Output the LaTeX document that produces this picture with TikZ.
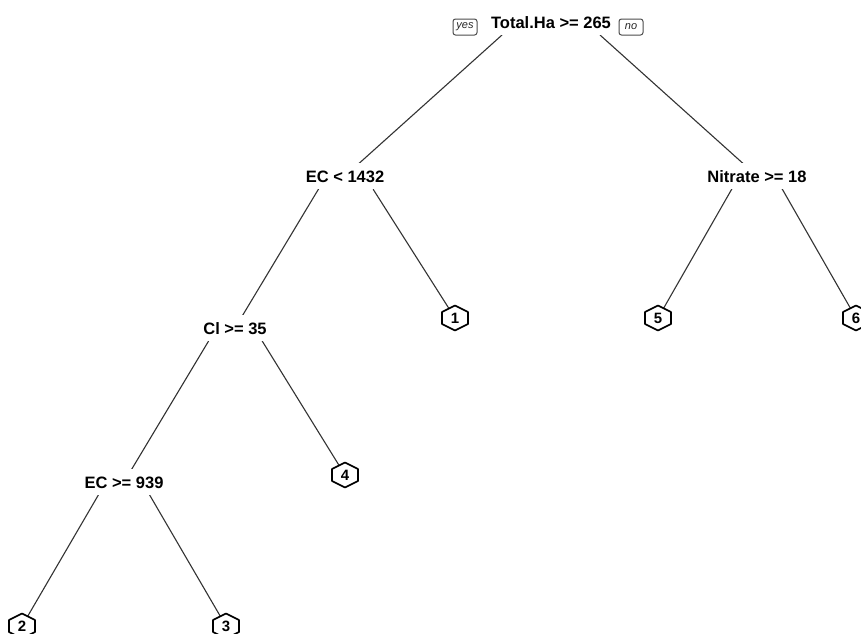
\documentclass[tikz,border=0pt]{standalone}
\usepackage{fontspec}
\setmainfont{Liberation Sans}
\usetikzlibrary{calc}
\pgfdeclarelayer{paper}
\pgfdeclarelayer{edges}
\pgfdeclarelayer{hexes}
\pgfsetlayers{paper,edges,hexes,main}
\begin{document}
\begin{tikzpicture}[x=1pt,y=-1pt,
  split/.style={font=\fontsize{16.5}{18}\selectfont\bfseries, fill=white,
    inner ysep=0pt, inner xsep=2pt, minimum height=26pt, text height=12pt, text depth=0pt},
  leaf/.style={font=\fontsize{15}{16}\selectfont\bfseries, inner sep=1pt},
  hexline/.style={draw=black, fill=white, line width=1.6pt, line join=round},
  edge/.style={draw=black!80, line width=1.1pt},
  yn/.style={draw=black!70, rounded corners=2.5pt, line width=1pt, minimum width=24pt,
    minimum height=16pt, inner sep=0pt, text=black!85,
    font=\fontsize{11}{12}\selectfont\itshape}]
\useasboundingbox (0,0) rectangle (861,633);
\begin{pgfonlayer}{paper}
\fill[white] (0,0) rectangle (861,633);
\end{pgfonlayer}

% split nodes
\node[split] (root) at (551,22) {Total.Ha >= 265};
\node[split] (ec) at (345,176) {EC < 1432};
\node[split] (ni) at (757,176) {Nitrate >= 18};
\node[split] (cl) at (235,328) {Cl >= 35};
\node[split] (e9) at (124,482) {EC >= 939};
\node[yn] (yes) at (465,27) {yes};
\node[yn] (no) at (631,27) {no};

% leaves
\node[leaf] (l1) at (455,318) {1};
\node[leaf] (l2) at (22,626) {2};
\node[leaf] (l3) at (226,626) {3};
\node[leaf] (l4) at (345,475) {4};
\node[leaf] (l5) at (658,318) {5};
\node[leaf] (l6) at (856,318) {6};

% junction points above the split labels
\coordinate (jroot) at (551,-9);
\coordinate (jec) at (345,145);
\coordinate (jni) at (757,145);
\coordinate (jcl) at (235,297);
\coordinate (je9) at (124,451);

\begin{pgfonlayer}{edges}
\draw[edge] ($(jroot)!0.238!(ec)$) -- (ec.center);
\draw[edge] ($(jroot)!0.238!(ni)$) -- (ni.center);
\draw[edge] ($(jec)!0.240!(cl)$) -- (cl.center);
\draw[edge] ($(jec)!0.256!(l1)$) -- (l1.center);
\draw[edge] ($(jni)!0.254!(l5)$) -- (l5.center);
\draw[edge] ($(jni)!0.254!(l6)$) -- (l6.center);
\draw[edge] ($(jcl)!0.238!(e9)$) -- (e9.center);
\draw[edge] ($(jcl)!0.247!(l4)$) -- (l4.center);
\draw[edge] ($(je9)!0.251!(l2)$) -- (l2.center);
\draw[edge] ($(je9)!0.251!(l3)$) -- (l3.center);
\end{pgfonlayer}

\begin{pgfonlayer}{hexes}
\foreach \n in {l1,l2,l3,l4,l5,l6}
  \draw[hexline] ($(\n.center)+(0,-12.5)$) -- ($(\n.center)+(13,-6)$) -- ($(\n.center)+(13,6)$)
    -- ($(\n.center)+(0,12.5)$) -- ($(\n.center)+(-13,6)$) -- ($(\n.center)+(-13,-6)$) -- cycle;
\end{pgfonlayer}
\end{tikzpicture}
\end{document}
